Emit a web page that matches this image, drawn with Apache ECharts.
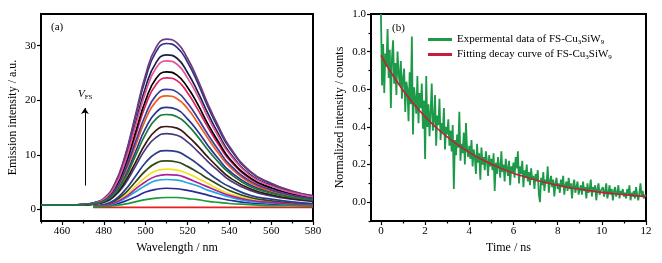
<!DOCTYPE html>
<html>
<head>
<meta charset="utf-8">
<script src="https://cdn.jsdelivr.net/npm/echarts@6/dist/echarts.min.js"></script>
<style>
html, body { margin: 0; padding: 0; background: #fff; }
#main { width: 662px; height: 263px; }
</style>
</head>
<body>
<div id="main"></div>
<script>
// panel (a): emission spectra, one array per curve
var wavelength = [450, 460, 470, 475, 480, 485, 490, 495, 500, 505, 510, 515, 520, 525, 530, 535, 540, 550, 560, 570, 580];

var emission = [
    [0.8, 0.8, 0.9, 1.2, 2.0, 4.5, 9.6, 17.1, 24.7, 29.7, 31.2, 30.5, 27.7, 23.7, 19.1, 15.1, 11.6, 7.0, 4.8, 3.4, 2.5],
    [0.8, 0.8, 0.9, 1.2, 2.0, 4.4, 9.4, 16.7, 24.0, 28.9, 30.4, 29.7, 27.0, 23.1, 18.6, 14.7, 11.3, 6.9, 4.7, 3.3, 2.5],
    [0.8, 0.8, 0.9, 1.2, 1.9, 4.1, 8.8, 15.5, 22.4, 26.9, 28.3, 27.7, 25.1, 21.5, 17.4, 13.7, 10.5, 6.4, 4.4, 3.2, 2.3],
    [0.8, 0.8, 0.9, 1.1, 1.9, 4.0, 8.5, 15.0, 21.5, 25.9, 27.2, 26.6, 24.1, 20.7, 16.7, 13.2, 10.2, 6.2, 4.3, 3.1, 2.3],
    [0.8, 0.8, 0.9, 1.1, 1.8, 3.7, 7.9, 13.9, 20.0, 24.0, 25.2, 24.6, 22.4, 19.2, 15.5, 12.3, 9.4, 5.8, 4.0, 2.9, 2.2],
    [0.8, 0.8, 0.9, 1.1, 1.7, 3.6, 7.6, 13.3, 19.1, 22.9, 24.1, 23.6, 21.4, 18.3, 14.9, 11.8, 9.1, 5.6, 3.9, 2.8, 2.1],
    [0.8, 0.8, 0.9, 1.1, 1.6, 3.3, 7.0, 12.2, 17.4, 20.9, 22.0, 21.5, 19.5, 16.7, 13.6, 10.8, 8.3, 5.2, 3.6, 2.6, 2.0],
    [0.8, 0.8, 0.9, 1.1, 1.6, 3.2, 6.6, 11.5, 16.5, 19.8, 20.8, 20.3, 18.5, 15.8, 12.9, 10.2, 7.9, 4.9, 3.4, 2.5, 1.9],
    [0.8, 0.8, 0.9, 1.0, 1.5, 3.0, 6.0, 10.4, 14.9, 17.8, 18.7, 18.3, 16.6, 14.3, 11.6, 9.2, 7.1, 4.5, 3.2, 2.3, 1.8],
    [0.8, 0.8, 0.9, 1.0, 1.5, 2.8, 5.6, 9.7, 13.8, 16.6, 17.4, 17.0, 15.5, 13.3, 10.8, 8.6, 6.7, 4.2, 3.0, 2.2, 1.7],
    [0.8, 0.8, 0.8, 1.0, 1.4, 2.5, 5.0, 8.5, 12.1, 14.5, 15.2, 14.9, 13.5, 11.6, 9.5, 7.6, 5.9, 3.8, 2.7, 2.0, 1.6],
    [0.8, 0.8, 0.8, 1.0, 1.3, 2.4, 4.6, 7.8, 11.1, 13.2, 13.9, 13.6, 12.4, 10.6, 8.7, 7.0, 5.4, 3.5, 2.5, 1.9, 1.5],
    [null, null, null, 0.6, 0.9, 1.7, 3.5, 6.0, 8.6, 10.3, 10.8, 10.6, 9.6, 8.3, 6.7, 5.3, 4.2, 2.6, 1.9, 1.4, 1.1],
    [null, null, null, 0.6, 0.8, 1.5, 2.9, 5.0, 7.1, 8.5, 8.9, 8.7, 7.9, 6.8, 5.6, 4.5, 3.5, 2.2, 1.6, 1.2, 1.0],
    [null, null, null, 0.6, 0.8, 1.3, 2.5, 4.2, 5.9, 7.1, 7.4, 7.2, 6.6, 5.7, 4.7, 3.7, 2.9, 1.9, 1.4, 1.1, 0.9],
    [null, null, null, 0.6, 0.7, 1.2, 2.2, 3.7, 5.1, 6.1, 6.4, 6.3, 5.7, 4.9, 4.1, 3.3, 2.6, 1.7, 1.3, 1.0, 0.8],
    [null, null, null, 0.6, 0.7, 1.1, 2.0, 3.2, 4.4, 5.3, 5.5, 5.4, 4.9, 4.3, 3.5, 2.9, 2.3, 1.5, 1.2, 0.9, 0.8],
    [null, null, null, 0.5, 0.6, 0.9, 1.5, 2.3, 3.2, 3.7, 3.9, 3.8, 3.5, 3.1, 2.6, 2.1, 1.7, 1.2, 1.0, 0.8, 0.7],
    [null, null, null, 0.5, 0.6, 0.7, 1.0, 1.4, 1.8, 2.1, 2.2, 2.2, 2.0, 1.8, 1.5, 1.3, 1.1, 0.9, 0.7, 0.7, 0.6],
    [null, null, null, 0.4, 0.4, 0.4, 0.4, 0.4, 0.4, 0.4, 0.4, 0.4, 0.4, 0.4, 0.4, 0.4, 0.4, 0.4, 0.4, 0.4, 0.4]
];

var emissionColors = ['#6e3a78', '#2e3088', '#1c1c48', '#e2579c', '#000000', '#e0205f', '#3a3d9a',
    '#f25a1e', '#2b3590', '#1a7a3a', '#3a1a10', '#4a3a80', '#2b3d8a', '#2f4a1a', '#f3e01c',
    '#b0209a', '#22a8e2', '#2a2a9a', '#1a9a3a', '#e42020'];

// panel (b): decay, experimental points every 0.05 ns and the fit every 0.5 ns
var decayStep = 0.05;
var decayData = [
    1.00, 0.62, 0.84, 0.58, 0.79, 0.72, 0.92, 0.66, 0.81, 0.50, 0.77, 0.86, 0.63, 0.74, 0.57, 0.80, 0.69, 0.62, 0.75, 0.55, 0.66,
    0.71, 0.48, 0.64, 0.60, 0.43, 0.69, 0.52, 0.88, 0.36, 0.61, 0.55, 0.47, 0.67, 0.42, 0.58, 0.50, 0.63, 0.39, 0.54, 0.23,
    0.67, 0.40, 0.52, 0.35, 0.48, 0.63, 0.38, 0.44, 0.57, 0.30, 0.46, 0.41, 0.55, 0.33, 0.42, 0.37, 0.50, 0.28, 0.40, 0.36,
    0.44, 0.30, 0.38, 0.27, 0.41, 0.07, 0.33, 0.25, 0.36, 0.29, 0.48, 0.22, 0.31, 0.26, 0.37, 0.20, 0.42, 0.28, 0.24, 0.30,
    0.23, 0.33, 0.19, 0.28, 0.24, 0.15, 0.31, 0.21, 0.26, 0.12, 0.29, 0.20, 0.24, 0.17, 0.27, 0.22, 0.14, 0.25, 0.19, 0.23,
    0.17, 0.26, 0.06, 0.21, 0.15, 0.24, 0.19, 0.13, 0.27, 0.16, 0.20, 0.11, 0.23, 0.18, 0.14, 0.22, 0.09, 0.19, 0.16, 0.21,
    0.13, 0.24, 0.18, 0.27, 0.10, 0.19, 0.15, 0.22, 0.08, 0.17, 0.13, 0.20, 0.11, 0.16, 0.09, 0.18, 0.12, 0.14, 0.07, 0.15,
    0.11, 0.17, 0.04, 0.00, 0.13, 0.09, 0.16, 0.06, 0.12, 0.10, 0.19, 0.05, 0.11, 0.14, 0.08, 0.12, 0.03, 0.10, 0.13, 0.07,
    0.10, 0.05, 0.12, 0.08, 0.14, 0.04, 0.09, 0.11, 0.06, 0.13, 0.07, 0.10, 0.02, 0.09, 0.12, 0.05, 0.08, 0.11, 0.04, 0.07,
    0.09, 0.04, 0.11, 0.06, 0.08, 0.02, 0.10, 0.05, 0.07, 0.12, 0.03, 0.08, 0.06, 0.09, 0.01, 0.07, 0.10, 0.04, 0.06, 0.05,
    0.08, 0.03, 0.06, 0.10, 0.02, 0.05, 0.09, 0.04, 0.07, 0.01, 0.06, 0.08, 0.03, 0.05, 0.09, 0.02, 0.06, 0.04, 0.07, 0.03,
    0.05, 0.02, 0.07, 0.04, 0.09, 0.01, 0.05, 0.03, 0.06, 0.02, 0.08, 0.04, 0.01, 0.05, 0.10, 0.03, 0.06, 0.02, 0.04, 0.03
];
var fitTime = [0, 0.5, 1, 1.5, 2, 2.5, 3, 3.5, 4, 4.5, 5, 5.5, 6, 6.5, 7, 7.5, 8, 8.5, 9, 9.5, 10, 10.5, 11, 11.5, 12];
var fitData = [0.78, 0.681, 0.595, 0.520, 0.454, 0.397, 0.347, 0.303, 0.265, 0.231, 0.202, 0.177, 0.154,
    0.135, 0.118, 0.103, 0.090, 0.078, 0.069, 0.060, 0.052, 0.046, 0.040, 0.035, 0.031];

// tick labels
var wlTicks = [460, 480, 500, 520, 540, 560, 580];
var wlMinor = [450, 470, 490, 510, 530, 550, 570];
var emTicks = [0, 10, 20, 30];
var tTicks = [0, 2, 4, 6, 8, 10, 12];
var tMinor = [1, 3, 5, 7, 9, 11];
var nTicks = [0, 0.2, 0.4, 0.6, 0.8, 1.0];
var nMinor = [-0.1, 0.1, 0.3, 0.5, 0.7, 0.9];

var serif = 'Liberation Serif';
var chart = echarts.init(document.getElementById('main'));

function mainAxis(extra) {
    var ax = {
        type: 'value',
        splitLine: { show: false },
        axisLine: { show: true, onZero: false, lineStyle: { color: '#000', width: 2 } },
        nameTextStyle: { color: '#000', fontFamily: serif, fontSize: 12 },
        nameLocation: 'middle'
    };
    return Object.assign(ax, extra);
}

function ticks(values, len) {
    return { show: true, length: len, customValues: values, lineStyle: { color: '#000', width: 1.2 } };
}

function labels(values, fmt) {
    var l = { color: '#000', fontFamily: serif, fontSize: 11, margin: 5, customValues: values };
    if (fmt) l.formatter = fmt;
    return l;
}

function minorAxis(extra) {
    var ax = {
        type: 'value',
        splitLine: { show: false },
        axisLine: { show: false, onZero: false },
        axisLabel: { show: false }
    };
    return Object.assign(ax, extra);
}

var series = [];
emission.forEach(function (ys, i) {
    series.push({
        type: 'line',
        xAxisIndex: 0,
        yAxisIndex: 0,
        smooth: true,
        showSymbol: false,
        connectNulls: false,
        lineStyle: { color: emissionColors[i], width: 1.7 },
        data: wavelength.map(function (w, j) { return [w, ys[j]]; }),
        z: 2 + (emission.length - i) % 3
    });
});

// V_FS arrow
series.push({
    type: 'line',
    xAxisIndex: 0,
    yAxisIndex: 0,
    data: [],
    markLine: {
        silent: true,
        symbol: ['none', 'arrow'],
        symbolSize: 6,
        label: { show: false },
        lineStyle: { color: '#000', width: 1, type: 'solid' },
        data: [[{ coord: [471, 4.4] }, { coord: [471, 18.6] }]]
    }
});

var expName = 'Expermental data of FS-Cu3SiW9';
var fitName = 'Fitting decay curve of FS-Cu3SiW9';

series.push({
    name: expName,
    type: 'line',
    xAxisIndex: 2,
    yAxisIndex: 1,
    showSymbol: false,
    lineStyle: { color: '#1c9a48', width: 1.8 },
    itemStyle: { color: '#1c9a48' },
    data: decayData.map(function (v, i) { return [+(i * decayStep).toFixed(2), v]; })
});
series.push({
    name: fitName,
    type: 'line',
    xAxisIndex: 2,
    yAxisIndex: 1,
    smooth: true,
    showSymbol: false,
    lineStyle: { color: '#c41e3a', width: 1.6 },
    itemStyle: { color: '#c41e3a' },
    data: fitTime.map(function (t, i) { return [t, fitData[i]]; }),
    z: 5
});

var option = {
    animation: false,
    backgroundColor: '#fff',
    grid: [
        { left: 41, top: 14, width: 272, height: 207, show: true, borderColor: '#000', borderWidth: 2 },
        { left: 371, top: 14, width: 275, height: 207, show: true, borderColor: '#000', borderWidth: 2 }
    ],
    xAxis: [
        mainAxis({ gridIndex: 0, position: 'bottom', min: 450, max: 580, name: 'Wavelength / nm', nameGap: 20,
            axisTick: ticks(wlTicks, 4), axisLabel: labels(wlTicks) }),
        minorAxis({ gridIndex: 0, position: 'bottom', min: 450, max: 580, axisTick: ticks(wlMinor, 2.5) }),
        mainAxis({ gridIndex: 1, position: 'bottom', min: -0.45, max: 12, name: 'Time / ns', nameGap: 20,
            axisTick: ticks(tTicks, 4), axisLabel: labels(tTicks) }),
        minorAxis({ gridIndex: 1, position: 'bottom', min: -0.45, max: 12, axisTick: ticks(tMinor, 2.5) })
    ],
    yAxis: [
        mainAxis({ gridIndex: 0, position: 'left', min: -2.1, max: 35.8, name: 'Emission intensity / a.u.', nameGap: 22,
            axisTick: ticks(emTicks, 4), axisLabel: labels(emTicks) }),
        mainAxis({ gridIndex: 1, position: 'left', min: -0.1, max: 1.0, name: 'Normalized intensity / counts', nameGap: 25,
            axisTick: ticks(nTicks, 4),
            axisLabel: labels(nTicks, function (v) { return v.toFixed(1); }) }),
        minorAxis({ gridIndex: 1, position: 'left', min: -0.1, max: 1.0, axisTick: ticks(nMinor, 2.5) })
    ],
    legend: {
        data: [expName, fitName],
        orient: 'vertical',
        left: 423,
        top: 29,
        itemWidth: 24,
        itemHeight: 3,
        itemGap: 3,
        icon: 'rect',
        formatter: function (name) {
            var head = name.replace('FS-Cu3SiW9', '');
            return '{a|' + head + 'FS-Cu}{s|3}{a|SiW}{s|9}';
        },
        textStyle: {
            color: '#000',
            fontFamily: serif,
            fontSize: 11,
            rich: {
                a: { fontFamily: serif, fontSize: 11, color: '#000' },
                s: { fontFamily: serif, fontSize: 7, color: '#000', padding: [6, 0, 0, 0] }
            }
        }
    },
    graphic: [
        { type: 'text', left: 51, top: 22, style: { text: '(a)', fontFamily: serif, fontSize: 11, fill: '#000' } },
        { type: 'text', left: 392, top: 23, style: { text: '(b)', fontFamily: serif, fontSize: 11, fill: '#000' } },
        { type: 'text', left: 78, top: 89, style: {
            text: '{v|V}{s|FS}',
            rich: {
                v: { fontFamily: serif, fontStyle: 'italic', fontSize: 11, fill: '#000' },
                s: { fontFamily: serif, fontSize: 7, fill: '#000', padding: [6, 0, 0, 0] }
            }
        } }
    ],
    series: series
};

chart.setOption(option);
</script>
</body>
</html>
